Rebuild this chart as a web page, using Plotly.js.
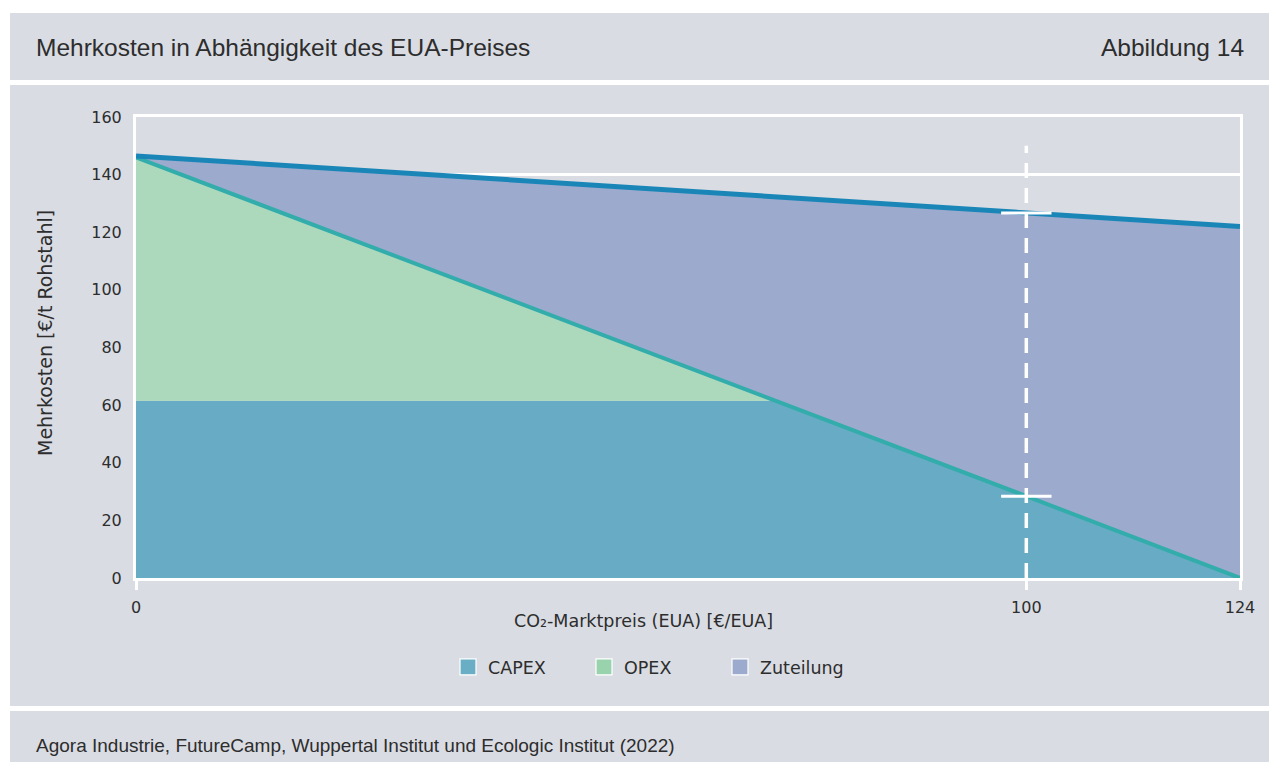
<!DOCTYPE html>
<html>
<head>
<meta charset="utf-8">
<script src="https://cdn.plot.ly/plotly-3.0.1.min.js"></script>
<style>
  html, body { margin: 0; padding: 0; background: #ffffff; }
  #chart { width: 1269px; height: 762px; }
</style>
</head>
<body>
<div id="chart"></div>
<script>
// ---- data ----
const euaPrice   = [0, 72, 100, 124];          // CO2 market price [€/EUA]
const capex      = [61.5, 61.5, 28.4, 0];      // €/t crude steel
const opex       = [84.5, 0, 0, 0];
const zuteilung  = [0.5, 70.8, 98.3, 122];
const seriesNames = ['CAPEX', 'OPEX', 'Zuteilung'];
const xTicks     = [0, 100, 124];
const refPrice   = 100;
const refLineTop = 150;

const titleText  = 'Mehrkosten in Abhängigkeit des EUA-Preises';
const figText    = 'Abbildung 14';
const sourceText = 'Agora Industrie, FutureCamp, Wuppertal Institut und Ecologic Institut (2022)';
const xTitle     = 'CO₂-Marktpreis (EUA) [€/EUA]';
const yTitle     = 'Mehrkosten [€/t Rohstahl]';

// ---- styles ----
const fillColors   = ['#67acc4', '#acd9bc', '#9caacd'];
const legendColors = ['#6aaec5', '#99d3ad', '#9caacd'];
const tealLine = '#33acac';
const topLine  = '#1a86b8';
const bg = '#d9dce3';
const txt = '#2d2d2d';
const wideFont = 'DejaVu Sans, Noto Sans, sans-serif';
const headFont = 'Liberation Sans, Arial, sans-serif';

const lowerEdge = euaPrice.map((_, i) => capex[i] + opex[i]);
const upperEdge = euaPrice.map((_, i) => capex[i] + opex[i] + zuteilung[i]);
const refIdx = euaPrice.indexOf(refPrice);

const stacks = [capex, opex, zuteilung];
const traces = [];
stacks.forEach((vals, k) => {
  traces.push({
    type: 'scatter', x: euaPrice, y: vals, stackgroup: 'one', mode: 'none',
    fillcolor: fillColors[k], line: {width: 0}, name: seriesNames[k],
    showlegend: false, hoverinfo: 'skip'
  });
});
traces.push({
  type: 'scatter', x: euaPrice, y: lowerEdge, mode: 'lines',
  line: {color: tealLine, width: 4}, showlegend: false, hoverinfo: 'skip'
});
traces.push({
  type: 'scatter', x: euaPrice, y: upperEdge, mode: 'lines',
  line: {color: topLine, width: 5}, showlegend: false, hoverinfo: 'skip'
});
traces.push({
  type: 'scatter', x: [refPrice, refPrice], y: [lowerEdge[refIdx], upperEdge[refIdx]],
  mode: 'markers', cliponaxis: false,
  marker: {symbol: 'line-ew', size: 36, line: {color: '#ffffff', width: 3}},
  showlegend: false, hoverinfo: 'skip'
});
seriesNames.forEach((n, k) => {
  traces.push({
    type: 'scatter', x: [null], y: [null], mode: 'markers', name: n,
    marker: {symbol: 'square', size: 22, color: legendColors[k], line: {color: '#ffffff', width: 1.2}}
  });
});

// pixel helpers for paper placement of page furniture
const W = 1269, H = 762, mL = 136, mR = 29, mT = 117, mB = 184;
const pw = W - mL - mR, ph = H - mT - mB;
const px = v => (v - mL) / pw;
const py = v => (H - mB - v) / ph;

const band = (y0, y1) => ({type: 'rect', xref: 'paper', yref: 'paper', layer: 'below',
  x0: px(-10), x1: px(W + 10), y0: py(y1), y1: py(y0), line: {width: 0}, fillcolor: '#ffffff'});

const layout = {
  width: W, height: H,
  margin: {l: mL, r: mR, t: mT, b: mB, pad: 0},
  paper_bgcolor: bg, plot_bgcolor: bg,
  showlegend: true,
  xaxis: {
    range: [0, 124], tickvals: xTicks, ticks: 'outside', ticklen: 9, tickwidth: 3,
    tickcolor: '#ffffff', showline: true, linecolor: '#ffffff', linewidth: 3, mirror: true,
    showgrid: false, zeroline: false, ticklabelstandoff: 4,
    tickfont: {family: wideFont, size: 16, color: txt}, fixedrange: true
  },
  yaxis: {
    range: [0, 160], tick0: 0, dtick: 20, ticks: '', showline: true, linecolor: '#ffffff',
    linewidth: 3, mirror: true, showgrid: true, gridcolor: '#ffffff', gridwidth: 2.5,
    zeroline: false, ticklabelstandoff: 8,
    tickfont: {family: wideFont, size: 16, color: txt}, fixedrange: true
  },
  legend: {
    orientation: 'h', x: px(652), xanchor: 'center', y: py(667), yanchor: 'middle',
    font: {family: wideFont, size: 17.5, color: txt}, entrywidth: 91,
    bgcolor: 'rgba(0,0,0,0)', traceorder: 'normal'
  },
  shapes: [
    band(-10, 13),
    {type: 'rect', xref: 'paper', yref: 'paper', layer: 'below',
     x0: px(-10), x1: px(10), y0: py(H + 10), y1: py(-10), line: {width: 0}, fillcolor: '#ffffff'},
    band(80, 85),
    band(706, 711),
    {type: 'line', xref: 'x', yref: 'y', layer: 'above', x0: refPrice, x1: refPrice,
     y0: 0, y1: refLineTop, line: {color: '#ffffff', width: 3.5, dash: '15px,10px'}}
  ],
  annotations: [
    {text: titleText, xref: 'paper', yref: 'paper', x: px(34), y: py(47), xanchor: 'left', yanchor: 'middle',
     showarrow: false, font: {family: headFont, size: 24.5, color: txt}},
    {text: figText, xref: 'paper', yref: 'paper', x: px(1246), y: py(47), xanchor: 'right', yanchor: 'middle',
     showarrow: false, font: {family: headFont, size: 24.5, color: txt}},
    {text: sourceText, xref: 'paper', yref: 'paper', x: px(34), y: py(745), xanchor: 'left', yanchor: 'middle',
     showarrow: false, font: {family: headFont, size: 19, color: txt}},
    {text: xTitle, xref: 'paper', yref: 'paper', x: px(643), y: py(621), xanchor: 'center', yanchor: 'middle',
     showarrow: false, font: {family: wideFont, size: 17.5, color: txt}},
    {text: yTitle, xref: 'paper', yref: 'paper', x: px(45), y: py(333), xanchor: 'center', yanchor: 'middle',
     textangle: -90, showarrow: false, font: {family: wideFont, size: 19, color: txt}}
  ]
};

Plotly.newPlot('chart', traces, layout, {displayModeBar: false, staticPlot: true});
</script>
</body>
</html>
